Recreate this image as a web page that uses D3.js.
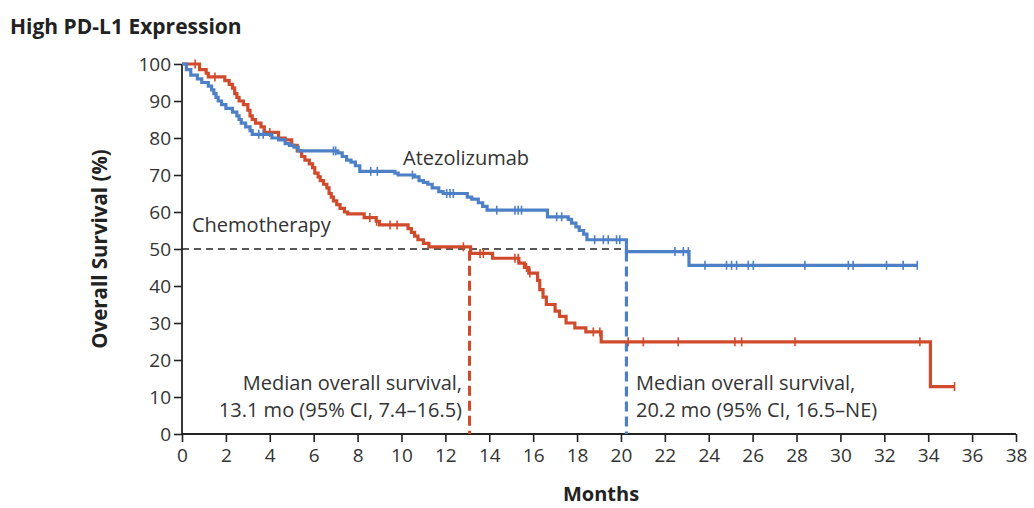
<!DOCTYPE html>
<html>
<head>
<meta charset="utf-8">
<script src="https://cdn.jsdelivr.net/npm/d3@7"></script>
<style>
  html, body { margin: 0; padding: 0; background: #fff; }
  svg { display: block; }
  text { font-family: "Open Sans", "Noto Sans", sans-serif; fill: #333; }
</style>
</head>
<body>
<svg id="chart" width="1034" height="508"></svg>
<script>
// ---- Data ----
const xTicks = [0,2,4,6,8,10,12,14,16,18,20,22,24,26,28,30,32,34,36,38];
const yTicks = [0,10,20,30,40,50,60,70,80,90,100];

// Atezolizumab: step times (months) and survival (%) after each step
const atezoTimes = [0,0.2,0.4,0.7,0.9,1.2,1.35,1.45,1.55,1.65,1.8,2.0,2.3,2.5,2.6,2.7,2.9,3.1,3.2,4.1,4.4,4.7,4.9,5.1,5.3,7.1,7.3,7.5,7.7,7.9,8.1,9.7,9.85,10.6,10.8,11.0,11.2,11.4,11.7,11.9,13.0,13.2,13.5,13.7,13.9,16.65,17.6,17.75,17.95,18.1,18.3,18.45,20.25,23.1];
const atezoSurv  = [100,98.5,97,96,95,94,93,92,91,90,89,88,87,86,85,84,83,82,81,80,79.5,78.5,78,77.5,76.5,76,75,74,73.5,72.5,71,70.5,70,69.5,68.5,68,67.5,66.5,65.5,65,64,63.5,62.5,61.5,60.5,58.7,58,57,56,55,54,52.5,49.3,45.6];
const atezoEnd = 33.5;
const atezoCensor = [3.5,3.7,6.9,7.0,8.6,8.9,10.5,12.06,12.21,12.36,14.34,15.17,15.32,15.47,17.07,17.3,18.8,19.2,19.42,19.8,19.95,22.46,22.84,23.07,23.83,24.81,25.04,25.27,25.8,26.03,28.38,30.36,30.58,32.1,32.86,33.5];

// Chemotherapy
const chemoTimes = [0,0.8,1.1,1.2,1.95,2.15,2.3,2.4,2.5,2.6,2.8,3.0,3.1,3.2,3.35,3.6,3.75,4.4,4.7,5.0,5.25,5.45,5.6,5.8,5.95,6.05,6.2,6.3,6.45,6.6,6.7,6.8,6.9,7.05,7.2,7.4,7.55,8.3,8.85,9.0,10.3,10.45,10.6,10.75,11.0,11.25,13.15,14.15,15.35,15.6,15.8,16.2,16.3,16.45,16.6,17.0,17.2,17.5,17.9,18.4,19.1,34.1];
const chemoSurv  = [100,98.5,97.5,96.5,95.5,94.5,93.5,92,91,90,89,87.5,86,85,84,83,81.5,80,79.5,78,76.5,75,74,73,72,70.5,69.5,68.5,67.5,66.5,65,64,63,62,61,60,59.5,58.5,57.5,56.5,55.5,54.5,53.5,52.5,51.5,50.6,48.8,47.5,46.2,45,43.5,41.5,39,37,35,33.2,31.8,30,28.7,27.6,24.9,12.8];
const chemoEnd = 35.2;
const chemoCensor = [0.6,1.5,4.0,8.56,8.87,9.48,9.8,12.82,13.58,13.73,15.17,15.32,15.7,15.85,18.74,19.04,20.33,21.02,22.61,25.19,25.5,27.93,33.62,35.2];

const medianAtezo = 20.25, medianChemo = 13.1;

// ---- Layout ----
const svg = d3.select("#chart");
const x = d3.scaleLinear().domain([0, 38]).range([182, 1016]);
const y = d3.scaleLinear().domain([0, 100]).range([434, 64]);
const blue = "#4d80c6", red = "#d04b2c";

// title
svg.append("text").attr("x", 10).attr("y", 34)
  .style("font-size", "21px").style("font-weight", 700).style("fill", "#222")
  .text("High PD-L1 Expression");

// axes
const xAxis = svg.append("g").attr("transform", "translate(0,434)")
  .call(d3.axisBottom(x).tickValues(xTicks).tickSize(8).tickPadding(5).tickFormat(d3.format("d")));
const yAxis = svg.append("g").attr("transform", "translate(182,0)")
  .call(d3.axisLeft(y).tickValues(yTicks).tickSize(8).tickPadding(3).tickFormat(d3.format("d")));
[xAxis, yAxis].forEach(g => {
  g.select(".domain").attr("stroke", "#222").attr("stroke-width", 1.8);
  g.selectAll(".tick line").attr("stroke", "#222").attr("stroke-width", 1.6);
  g.selectAll(".tick text").style("font-size", "19px").style("fill", "#333")
    .style("font-family", "'Open Sans', sans-serif");
});
xAxis.select(".domain").attr("d", `M${x(0)},0H${x(38)}`);
yAxis.select(".domain").attr("d", `M0,${y(100)}V${y(0)}`);
xAxis.selectAll(".tick text").attr("dy", "0.8em");

// axis titles
svg.append("text").attr("transform", `translate(107,249) rotate(-90)`)
  .attr("text-anchor", "middle").style("font-size", "20.5px").style("font-weight", 700).style("fill", "#222")
  .text("Overall Survival (%)");
svg.append("text").attr("x", 601).attr("y", 501).attr("text-anchor", "middle")
  .style("font-size", "20px").style("font-weight", 700).style("fill", "#222")
  .text("Months");

// median reference lines
svg.append("line").attr("x1", x(0)).attr("x2", x(medianAtezo)).attr("y1", y(50)).attr("y2", y(50))
  .attr("stroke", "#222").attr("stroke-width", 1.6).attr("stroke-dasharray", "7,5");
svg.append("line").attr("x1", x(medianChemo)).attr("x2", x(medianChemo)).attr("y1", y(49.5)).attr("y2", y(0))
  .attr("stroke", red).attr("stroke-width", 3).attr("stroke-dasharray", "10,5");
svg.append("line").attr("x1", x(medianAtezo)).attr("x2", x(medianAtezo)).attr("y1", y(49.3)).attr("y2", y(0))
  .attr("stroke", blue).attr("stroke-width", 3.2).attr("stroke-dasharray", "10,5");

// step curves
function stepPoints(times, surv, end) {
  const pts = times.map((t, i) => [t, surv[i]]);
  pts.push([end, surv[surv.length - 1]]);
  return pts;
}
function survAt(times, surv, t) {
  let s = surv[0];
  for (let i = 0; i < times.length; i++) if (times[i] <= t) s = surv[i];
  return s;
}
const line = d3.line().x(d => x(d[0])).y(d => y(d[1])).curve(d3.curveStepAfter);

const series = [
  { times: chemoTimes, surv: chemoSurv, end: chemoEnd, censor: chemoCensor, color: red },
  { times: atezoTimes, surv: atezoSurv, end: atezoEnd, censor: atezoCensor, color: blue }
];
series.forEach(s => {
  svg.append("path").datum(stepPoints(s.times, s.surv, s.end))
    .attr("d", line).attr("fill", "none").attr("stroke", s.color)
    .attr("stroke-width", 3.2).attr("stroke-linejoin", "miter");
  svg.append("g").selectAll("line").data(s.censor).join("line")
    .attr("x1", d => x(d)).attr("x2", d => x(d))
    .attr("y1", d => y(survAt(s.times, s.surv, d)) - 4.5)
    .attr("y2", d => y(survAt(s.times, s.surv, d)) + 4.5)
    .attr("stroke", s.color).attr("stroke-width", 1.6);
});

// annotations
const lab = (txt, xx, yy, anchor) => svg.append("text").attr("x", xx).attr("y", yy)
  .attr("text-anchor", anchor || "start").style("font-size", "20px").style("fill", "#333").text(txt);
lab("Atezolizumab", 403, 165);
lab("Chemotherapy", 192, 232);
lab("Median overall survival,", 462, 390, "end");
lab("13.1 mo (95% CI, 7.4\u201316.5)", 462, 417, "end");
lab("Median overall survival,", 636, 390);
lab("20.2 mo (95% CI, 16.5\u2013NE)", 636, 417);
</script>
</body>
</html>
